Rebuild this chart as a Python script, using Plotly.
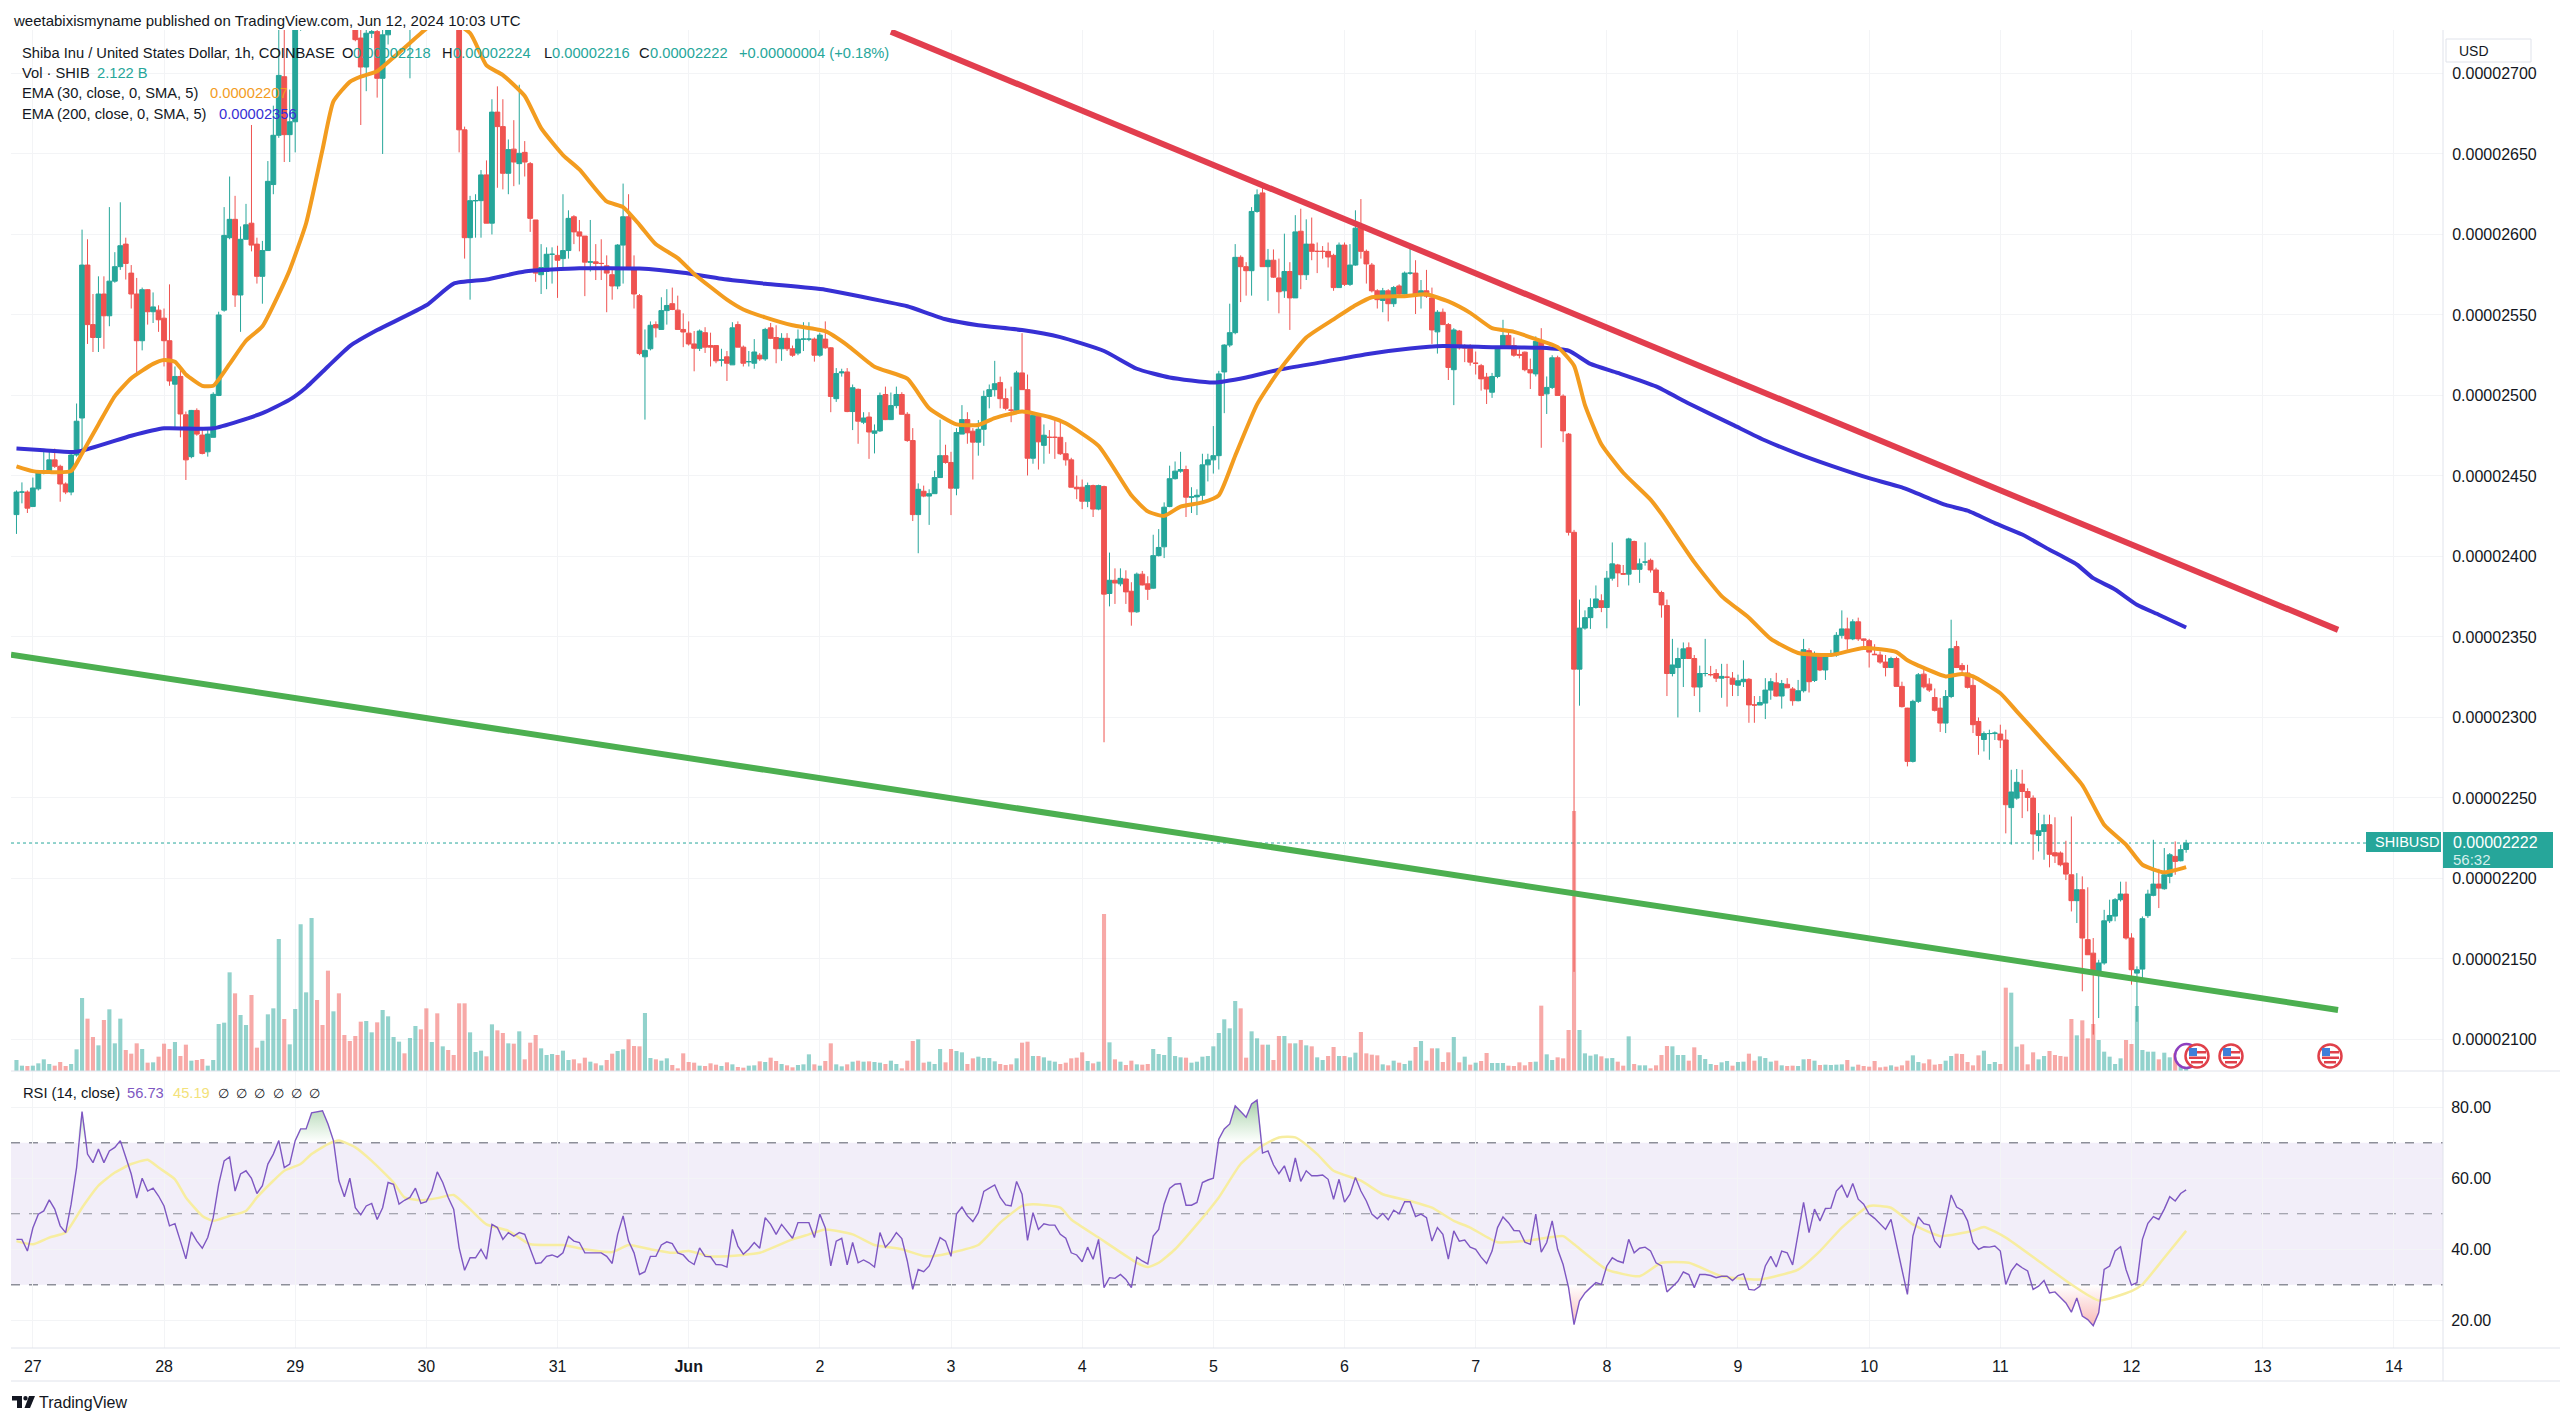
# coding: utf-8
import numpy as np
import pandas as pd
import plotly.graph_objects as go

# prices are in units of 0.00000001 USD, one candle per hour from May 26 21:00
opens = [
    2426,2440,2440,2431,2442,2452,2453,2460,2456,2445,2440,2463,2486,2581,2544,2536,2563,2549.5,2571,2580,
    2594,2576,2563,2534,2565.7,2552,2553,2548,2534,2507,2511.8,2488,2462,2490.7,2475.4,2465,2474,2500,2553,2598,
    2609.4,2562.4,2597,2607,2594,2574,2590,2631,2661.6,2698,2662,2670,2738,2752,2760,2775,2770,2765,2750,2768,
    2752,2745,2735,2722,2704,2725,2726,2697,2724,2730,2745,2760,2750,2765,2785,2770,2760,2768,2755,2765,
    2750,2740,2665,2598,2621,2621,2637,2607,2676,2667,2638,2653,2644,2651,2644,2609,2575,2577,2587.7,2587,
    2585,2590,2611,2601.6,2599,2582.8,2583,2582,2580.5,2575,2568,2593.4,2611,2578,2562,2524,2529,2544,2541,2552.7,
    2557,2553,2541,2538.7,2532,2529.3,2539,2531,2531,2522,2524,2519,2544,2530,2521,2520,2525,2522.7,2542,2536,
    2529,2535.5,2529,2526.3,2535,2535,2535,2525,2535,2529.6,2498,2514,2514.6,2490,2503.8,2483.4,2486.6,2476.5,2478,2500.6,
    2485,2493.7,2500.6,2488.3,2472,2426,2440.5,2437.5,2439,2449,2462.6,2458.4,2442.4,2476,2485,2477.8,2471,2479,2499.4,2503.6,
    2508,2498,2491,2490.8,2514,2503.6,2461,2487,2469,2474,2474,2474,2463.8,2460,2443,2443,2434.3,2444,2429.4,2443.4,
    2377,2385.2,2383,2386,2378.4,2365.6,2389,2383,2380.3,2400.5,2406,2431,2448.3,2453,2454,2436.8,2437,2438,2456.9,2460,
    2462.6,2514.6,2531.3,2539,2585.8,2580,2577.5,2614.3,2625.8,2580,2584,2573,2565,2577,2560.6,2602,2575,2594,2589.5,2589.5,
    2589.5,2587,2567,2593.4,2569,2581,2603.9,2589.5,2581,2565,2559,2565,2557,2568,2563,2576,2576,2562,2565,2560.6,
    2539.5,2551.7,2544,2516,2540,2529.6,2530.7,2520,2518.5,2511.4,2502,2511.8,2529.6,2537.3,2531,2525.5,2526.9,2516,2513.4,2533.6,
    2501,2505,2523.4,2499.6,2476,2415,2330,2355.5,2362,2368.3,2372.5,2368.3,2386.5,2394.7,2389.4,2389,2409.3,2392,2396.5,2397.6,
    2391.6,2377.6,2369.5,2327.3,2331,2336.6,2343.3,2336.6,2318.9,2327.3,2326.6,2327.3,2324.4,2325,2324.4,2320,2322.2,2323.7,2307.8,2307.7,
    2308.9,2317,2321.5,2313.3,2320.6,2317.7,2310.4,2316.6,2341.5,2323,2339,2329.5,2338.8,2338.8,2351,2355,2348.8,2359.4,2348.8,2347.7,
    2339.3,2338.8,2334.4,2331,2336.6,2319.3,2305.8,2272.7,2310,2326.9,2320.7,2312.4,2305.8,2296.5,2313,2344,2332.3,2327.6,2319.9,2297.5,
    2286.3,2290,2290,2289.7,2286,2244,2249.9,2258.6,2254,2249.9,2226.7,2229.2,2233.4,2216,2215.8,2209.6,2202.3,2186.2,2193,2162,
    2153.6,2140.6,2147.5,2173.7,2176.6,2186.8,2190.3,2163,2141.2,2143.7,2176.9,2189.5,2196.5,2193.6,2201.3,2213.7,2211,2218,
]
highs = [
    2441,2446,2441,2449,2452,2465,2465,2467,2457,2446,2464,2495,2603,2597,2563,2574,2574,2617,2589,2620,
    2598,2581,2573,2567,2566,2564,2556,2554,2569,2518,2518,2490,2491,2492,2478.7,2478.5,2502,2552,2617,2636,
    2624,2605,2619,2668,2598,2596,2645.6,2680,2735,2735,2690,2745,2760,2768,2785,2790,2782,2778,2772,2780,
    2765,2755,2748,2740,2735,2735,2740,2745,2750,2755,2770,2785,2775,2800,2795,2785,2775,2780,2770,2772,
    2762,2750,2667,2624,2625,2640,2646,2684,2692,2684,2659,2671,2693,2658,2645,2609,2594,2592,2592,2593,
    2625,2615,2612,2609,2599,2609,2594,2597,2587,2579.5,2594,2631.6,2625,2587,2563,2541,2546,2546,2561,2566,
    2567,2562,2551,2546,2540,2541,2542.4,2539,2531,2529,2527.6,2545.5,2546,2531,2527.6,2535,2526.3,2542,2545,2543.6,
    2538.7,2538.7,2531,2541,2545.5,2545.5,2536,2539,2546,2530,2517,2516.6,2517,2506.8,2504.3,2489.6,2489.6,2482,2501.8,2505.5,
    2501.8,2505.5,2502,2489.6,2479.7,2445.4,2444,2441.7,2453.2,2485,2469.4,2465,2479.7,2494,2489.6,2479.7,2484.7,2503,2506.8,2521.5,
    2511.7,2504.3,2505.5,2515.3,2538.7,2513,2489.6,2488.3,2482,2478.5,2484.7,2484.7,2471,2461.3,2450.3,2447.8,2445.9,2444.6,2444.6,2444,
    2402.4,2392.6,2392.6,2391.4,2384,2390,2391,2387.7,2413.5,2417,2433.6,2456.4,2459,2465,2456.4,2443,2441.7,2463.8,2463.8,2481,
    2515.3,2531.8,2557,2594,2587,2582.8,2617,2628,2629,2591,2590.7,2585,2600.5,2582.8,2612,2616,2609.4,2610.5,2595,2592.8,
    2595,2588,2595,2595,2594,2615,2622,2590.6,2582.3,2566,2566.8,2566,2568,2569,2577,2591.7,2584,2571.7,2578,2567,
    2553,2554,2545,2541.8,2540.7,2531.8,2531.8,2527.3,2519.6,2514,2514,2530.7,2547,2540.7,2536,2528.5,2527.3,2522.9,2536.7,2541.8,
    2511.8,2525,2524.7,2500.7,2476.7,2416.5,2373.2,2366.5,2374,2382,2376.5,2391,2408.7,2395.4,2394.7,2411.6,2409.8,2398.7,2408.7,2398.7,
    2393,2378.7,2373.2,2348.8,2343.3,2346.6,2346.6,2338.8,2332.2,2348.8,2332,2330,2333.3,2333.3,2328.2,2326.6,2335.5,2324.4,2313.3,2313.3,
    2324.4,2324.4,2327.7,2323.3,2324.4,2318.9,2323.3,2348.8,2343,2341,2340,2339.9,2342,2353,2366.5,2362,2361,2362,2349,2348.8,
    2345.5,2341,2338.8,2337.7,2337.7,2322.2,2306,2311,2327.6,2332,2324.4,2318,2312,2317,2360.7,2347.6,2333.8,2332.7,2326.5,2300,
    2291.3,2292.4,2291.3,2295.5,2292.4,2267.5,2268,2267.5,2256,2251.6,2240.6,2239.6,2239.6,2238,2216.8,2223.4,2238.5,2203.3,2201.3,2194.5,
    2163,2149.5,2180.5,2186.8,2187.8,2198,2198,2166,2145.4,2176.4,2193,2224,2206,2218.9,2215.8,2223,2220.9,2224,
]
lows = [
    2414,2433,2427,2431,2441,2451,2453,2455,2434,2438.7,2438,2462,2463,2532,2527,2527,2529,2543,2570,2578,
    2572,2554,2513,2528,2544,2545,2539.5,2518,2506,2480,2474,2447.5,2461,2475,2463.4,2462,2474,2499.6,2552,2597,
    2555,2539.5,2597,2589.5,2569.5,2557,2590,2625,2660,2645,2645,2651,2726.5,2740,2750,2760,2755,2745,2742,2745,
    2735,2730,2720,2668,2689,2722,2685,2650,2718,2728,2735,2745,2697,2750,2765,2750,2745,2748,2740,2745,
    2732,2651,2585,2559.5,2598,2598,2607,2600,2629,2628,2625,2630,2631,2636,2601.6,2570.6,2563,2566,2569.5,2560.6,
    2579,2585,2594,2589.5,2561.7,2577,2571.7,2571.7,2551.7,2559.5,2566,2569.5,2578,2554,2525,2485,2528,2536,2541,2544,
    2553,2541,2530,2531,2515,2527.6,2526.4,2518,2520,2518,2509,2519,2530,2518,2518,2516.6,2521.5,2521.5,2535,2520,
    2521.5,2527.6,2524,2525,2527.6,2533.7,2521,2524,2529,2489.6,2496,2511.7,2489.6,2478.5,2470,2482.2,2460.6,2464,2477.3,2484.7,
    2485.9,2492,2488.3,2471.2,2422,2402,2436.8,2419.6,2439,2449,2457.6,2425.7,2438,2476,2470,2447.8,2462.6,2468.7,2492,2499.4,
    2492,2490.8,2483.4,2489.6,2503.6,2450.3,2457.6,2454,2457.6,2463.8,2460.6,2463,2456.4,2443,2435.6,2429.4,2430.6,2424.5,2428.7,2284.6,
    2369,2370.5,2381.5,2370.5,2357,2365,2382,2373,2380,2400,2399,2430.6,2447.8,2452,2424.5,2427,2425.7,2434.3,2446.6,2451.5,
    2454,2489,2530,2538,2558,2562,2562,2613.5,2580,2558.8,2573,2551,2560.6,2540.7,2560.6,2566,2571.7,2584,2576,2585,
    2579.5,2565,2567,2568,2568,2580.6,2585,2569.5,2564,2554,2551.7,2546,2555,2562.4,2562.8,2575,2550.6,2554,2560.6,2532,
    2526,2544,2509.6,2494,2528.5,2520.7,2518.5,2513,2503,2494.7,2498.5,2510.7,2529.1,2530,2524,2523,2515,2504,2511.8,2467.5,
    2488.5,2504,2500,2471,2413,2142,2307.3,2354.5,2355,2367.6,2365.4,2355.4,2385,2381,2388.8,2382,2392,2383.6,2394.3,2390,
    2377.6,2362,2313.3,2325.5,2300,2318.9,2336.6,2313.3,2303.3,2325.5,2325.5,2322,2312.2,2306.7,2313.3,2313.3,2318.9,2296.7,2296.7,2307.7,
    2299,2311,2313,2305.5,2318.4,2307.3,2310,2315.5,2315.5,2322,2328.8,2323.3,2337.7,2337.7,2349,2342,2348,2347.5,2342,2331,
    2338.8,2333.3,2325.5,2331,2319.3,2306.2,2269.6,2272,2309,2318,2315.8,2303.7,2291,2290.3,2312,2331,2326.5,2318,2290.3,2276.8,
    2278.9,2273.7,2286,2281,2228,2221,2248.9,2237.5,2241.7,2211.6,2216.8,2211.6,2206.9,2209.6,2207.5,2199,2179.5,2172.3,2129.9,2152.6,
    2103,2113.3,2146.4,2172.3,2173.4,2185.7,2162,2134,2111,2138,2175.5,2188.9,2181.6,2193,2197,2202.3,2210.6,2216,
]
closes = [
    2440,2440,2430,2442.5,2452,2453,2460,2456,2445,2440,2463,2484,2581,2544,2536,2563,2549.5,2571,2580,2593,
    2582,2563,2534,2565.7,2552,2555,2547,2534,2509,2511.8,2488.5,2460,2490.7,2476,2464,2476,2500.7,2550,2599.4,2609.4,
    2562.4,2597,2606,2593.4,2574,2590,2633,2661.6,2698.8,2662,2670,2738,2752,2760,2775,2770,2765,2750,2768,2752,
    2745,2735,2721,2704,2725,2726,2697,2724,2730,2745,2760,2750,2765,2785,2770,2760,2768,2755,2765,2750,
    2740,2665,2598,2621,2621,2637,2607,2676,2667,2638,2652.7,2645,2650.4,2645,2610,2576,2579.5,2587.7,2587.7,2584,
    2590,2610,2601.6,2599,2582.8,2583,2582,2582,2576,2568,2593.4,2611,2579.5,2563,2526,2528,2543.6,2542,2552.7,2555.9,
    2553.4,2541,2539.4,2532,2529.3,2540,2530,2530,2521.5,2522,2520,2542,2530,2520,2521,2527,2522.7,2541,2535.5,2529,
    2535.5,2529,2525,2535,2535,2535,2525,2537.5,2529.6,2499.4,2513.6,2514.6,2490,2504.8,2484,2486,2477.3,2478,2500,2485,
    2493.7,2500.6,2488.3,2472,2426,2441.7,2437.5,2439,2449,2462.6,2458.4,2442.4,2477,2485,2476.8,2471,2479,2499.4,2503.6,2507.3,
    2498,2492,2490.8,2514,2503.6,2461,2487.6,2471.2,2475.3,2474,2474,2463.8,2460,2443,2442,2434.3,2444,2429.4,2444,2376.6,
    2385.2,2383.5,2386.4,2378,2365.6,2389,2382.3,2379.6,2400.5,2405.6,2430.6,2448.3,2453,2454,2436.8,2437,2438,2456.9,2460,2462.6,
    2513.4,2531.3,2539,2585.8,2580,2577.5,2614.3,2624.6,2580,2584,2573.5,2564.4,2577,2560.6,2601.6,2575,2594,2589.5,2589.5,2589.5,
    2586,2567,2593.4,2569,2581,2603.9,2589.5,2581.7,2565,2559.5,2565,2557,2567,2563,2576,2576,2563,2565,2561.7,2540.7,
    2551.7,2544,2517.4,2540.7,2529.6,2529.6,2520.7,2520,2510.3,2504,2511.8,2529.6,2537.3,2530.7,2525,2525,2516,2514,2533.6,2500,
    2505,2523.4,2500,2478,2415,2330,2355.5,2362,2368.3,2373.6,2368.3,2386.5,2395.4,2389.8,2389,2410.9,2392,2395.4,2396.5,2391.6,
    2377.6,2369.9,2327.3,2332.6,2336.6,2342.6,2336.6,2318.9,2327.3,2327.3,2326.6,2324.4,2325.5,2325,2320.6,2322.8,2323.7,2307.8,2307.7,2309.3,
    2317,2322.2,2313.3,2321,2318.4,2310.4,2316.6,2342.1,2322.2,2339,2329.5,2338.8,2338.8,2351,2355,2348.8,2359.4,2348.8,2348,2340.6,
    2339,2334.4,2331,2336.6,2319.3,2306.7,2272.7,2310,2326.5,2319,2317,2304.4,2296.5,2313,2342.7,2331,2329.6,2318.7,2295.5,2288.8,
    2290,2290,2290.3,2286,2245.8,2253.7,2259.7,2254,2250.3,2227.6,2229.6,2233.4,2215,2214,2208.5,2202.7,2186.2,2193,2163,2152.6,
    2141.3,2147.5,2173.7,2177,2186.8,2190.3,2163,2143.3,2143.3,2175,2190.3,2196.5,2194,2202.3,2214.7,2210.6,2217.9,2222,
]
# bar heights
volumes = [
    33,16,15,16,23,35,21,16,27,15,21,65,219,157,102,77,153,185,83,157,
    63,52,83,66,25,26,43,82,66,87,45,79,31,33,36,16,33,141,145,296,
    233,168,138,228,70,91,170,188,396,156,80,186,440,236,459,213,138,301,179,233,
    108,90,105,148,150,116,146,183,164,102,88,53,99,135,125,188,87,173,74,63,
    48,203,203,116,57,61,44,140,122,114,83,82,119,35,85,108,68,48,51,48,
    61,33,35,23,40,28,23,17,33,52,60,65,95,75,74,174,39,35,31,38,
    18,8,53,27,25,16,15,23,19,15,26,20,12,10,16,17,29,27,40,30,
    21,17,11,18,20,50,20,16,30,83,20,14,20,28,31,28,29,27,25,21,
    31,21,8,31,90,95,25,28,21,66,26,66,60,56,21,38,43,39,39,29,
    21,18,20,38,85,88,45,45,41,31,28,21,25,38,40,56,30,23,28,471,
    86,35,28,18,31,20,19,21,66,51,48,102,45,41,40,25,28,43,45,74,
    114,155,128,210,188,40,119,98,79,79,33,105,105,83,83,93,77,74,41,33,
    45,72,45,45,41,55,117,53,49,47,20,17,31,25,21,31,72,90,31,68,
    68,27,56,102,26,43,19,25,30,54,24,24,24,16,15,26,17,27,28,196,
    50,33,41,38,123,780,123,53,46,50,44,38,39,28,16,104,21,17,17,8,
    17,48,75,74,48,48,31,71,48,36,21,18,26,30,16,27,28,52,31,44,
    39,28,31,17,15,16,15,35,36,31,18,19,18,19,20,33,13,19,15,13,
    30,11,13,17,13,17,31,47,27,23,35,19,21,31,45,52,51,27,17,47,
    61,21,27,21,250,235,73,80,20,56,35,45,60,48,45,43,156,107,152,98,
    141,93,58,43,21,38,93,81,195,63,58,58,35,55,41,53,48,38,
]
rsi_values = [
    42.8,42.8,39.5,46,49.9,50.8,53.9,51.3,46.6,44.7,52.7,63,78.8,66.8,64.4,68.2,64.4,67.7,68.7,70.6,
    65.9,61.2,54.4,60,56.4,57.2,55,52.2,46.6,47.2,42.3,37.3,44.9,42.3,40.3,43.3,48.9,58.3,64.9,66,
    56.4,61.2,62.1,60,55.7,57.9,64,66.8,70.6,63,64,70.6,73.9,73.9,78.4,78.7,79,75.3,70.6,59.3,
    54.8,60,51.7,49.7,52.2,52.9,48.4,51.7,58.8,58.3,52.7,53.8,54.6,57.2,52.9,53.4,56.4,61.8,58.8,54.6,
    51.3,40.4,34.1,37.6,37.6,40,37.2,47,46.1,42.8,44.7,43.7,44.7,44.2,40,36,36.2,38,38.4,37.8,
    39,43.6,42.3,41.9,39,39,38.8,39,38,36,44.2,49.4,42.3,39,32.9,33.7,38,38,41.2,42.1,
    41.6,39,38.4,36.7,35.7,40.4,38,37.9,35.7,35.6,35,45.6,40.9,38.6,40,41.9,40.3,48.9,47,44.2,
    47,45.2,43.1,47.5,47.5,47.5,43.3,49.9,46,35.3,42.3,43.1,35.6,41.9,36.2,37,36.2,35,44.7,40.6,
    42.3,44.7,
    43,36.7,28.7,34.3,33.7,35.3,39,43.3,42.3,38,49.9,51.9,49.4,47.8,50.3,56.3,57.2,58.1,54.6,52.5,
    52.2,59.1,55.5,42.5,50.3,45.6,47.2,46.8,46.8,44.2,43.1,39,38.4,36.5,40.6,37.2,42.8,29.2,32,31.8,
    32.9,31.5,29.2,37.8,36.7,35.9,43.7,45.6,52.7,57.1,58.3,58.5,52.4,52.4,53.2,58.8,59.5,60,71,73.9,
    75.3,80.4,78.8,77.2,80.9,82,67.1,67.7,63.8,61.3,63.5,59,65.7,59.1,62.1,60.7,60.7,60.9,59.7,54.1,
    59.7,53.3,55.5,60.2,56.4,53.6,49.9,48.6,50.1,48.3,51,50,53.4,53.4,49.2,49.9,48.9,42.3,46.1,44.2,
    37.2,45.2,42.3,42.6,40.6,40,37.8,36,39.5,46.1,49.1,47.5,45.3,45.2,42,41.4,49.9,39.2,41.9,48,
    40,35.7,29.2,18.8,25.4,27.7,29.2,30.6,30.1,35.3,37.6,36.7,36.2,42.8,39,40.3,40.6,39.5,36.2,35.3,
    28,29.6,31,33.6,32.9,29.2,32.9,32.9,32.6,32,32.4,32.4,31.2,32.6,33.1,28.7,28.5,29.6,35.3,38,
    35,39.5,39,35.6,44.2,
    53.2,44.7,51.3,48,51.5,51.6,56.4,58,54.6,58.5,54.1,52.7,49.9,48.7,47,45.6,48.4,40.9,34.3,27.3,
    43.7,49.1,47.2,46.8,42.3,40.4,48,55.3,51.9,51,48,41.9,40,40.7,40.6,40.9,39.5,30.1,33.9,35.9,
    34.8,33.9,28.7,29.6,31.2,27.7,28,26.3,24.9,22.3,26.3,21.2,20.2,18.5,22.1,34.3,35.3,39.5,40.7,34.3,
    29.9,30.6,42.8,47.3,49.2,48.4,51.3,54.8,53.6,55.7,56.73,
]
# smooth lines, read at their bends: candle number and value
rsi_ma_hours = [0,3,6,9,12,15,18,21,24,26,29,31,34,36,39,42,44,47,49,52,54,57,59,62,65,69,71,74,77,80,83,86,90,94,100,104,109,112,116,120,123,127,133,136,142,145,148,153,157,162,
    166,168,171,176,180,184,186,191,193,198,205,207,209,212,216,220,224,228,231,234,238,241,246,250,255,259,263,266,271,277,283,285,291,297,301,306,312,319,326,330,334,339,343,347,352,358,360,364,370,376,381,387,389,393,397]
rsi_ma_values = [42.3,41.4,43.3,44.7,51.7,57.9,61.6,64,65.2,63,59.7,54.6,49.4,48,49.4,50.8,54.6,59.3,62.1,64,66.8,69.6,70.6,68.7,64.9,58.8,54.6,53.8,54.4,55.3,51.3,47,45.2,41.4,41.2,40,39.2,41.2,40,39,39.5,38,38.4,39,42.8,44.2,45.6,44.2,41.2,40,
    38.1,38.1,39,41.2,47.5,52.2,52.7,51.7,48.4,43.3,36.2,35,36.2,40,47,54.6,64,69.2,71.5,71.5,66.8,62.1,59.3,55.5,53.6,51.7,48,46.1,42,42.5,43.7,41.4,34.3,32.4,36.2,36.2,32.4,31.5,34.3,39.5,46.1,52.2,51.7,47,43.7,45.2,46.3,43.3,36.7,30.1,25.6,28.2,30.1,37.6,45.19]
ema30_hours = [0,3,6,10,12,15,18,21,25,27,29,31,34,36,39,42,45,48,50,53,56,58,61,63,66,69,72,74,78,83,86,89,93,96,100,103,108,111,114,117,121,124,130,133,137,142,148,152,157,163,167,172,176,179,184,189,192,198,204,207,210,213,217,220,223,227,231,236,241,245,248,254,258,262,266,270,274,278,282,285,287,290,294,299,301,307,312,317,321,326,332,338,344,346,348,353,356,358,363,366,371,378,382,386,389,393,397]
ema30_values = [2456,2453,2452.4,2453,2464,2482,2499.6,2510.7,2519.6,2522,2521,2513,2506,2506,2519.6,2534,2543,2563,2578,2607,2652.7,2682.6,2694.8,2698,2701.4,2710,2719,2725,2735,2725,2705,2699,2686,2666,2649.3,2640.4,2620.5,2617,2606,2593.9,2585.3,2575.5,2559.5,2553.4,2548.5,2543.6,2539.9,2531.3,2517.8,2510.4,2492,2482,2481.7,2485.9,2490,2486.6,2482.7,2468.7,2438,2428,2425.2,2431,2433.6,2438,2462.6,2494.5,2515.3,2536,2547.3,2556,2561,2561.7,2562.8,2558.4,2551.3,2541.8,2539.5,2535,2530,2518.5,2494,2469.7,2452,2435.3,2426.4,2396.5,2375.4,2362,2348.8,2340,2338.8,2343.2,2340.6,2335.5,2332.2,2325.5,2327,2325.5,2315,2303.8,2285,2258,2233.4,2221,2208.5,2203.8,2207]
ema200_hours = [0,5,11,21,27,36,45,50,53,57,61,66,75,80,86,93,103,114,122,129,137,148,159,163,170,176,184,191,199,205,211,219,225,231,239,247,255,261,270,279,284,288,293,300,306,314,320,326,332,339,345,353,357,362,367,372,377,380,384,388,392,397]
ema200_values = [2467,2466,2465,2475,2479.6,2479.6,2489,2497.4,2505,2518,2530.7,2540.6,2556,2569.5,2572,2577,2579,2578.8,2576.2,2572.5,2569.4,2565.7,2558.3,2555.4,2547.3,2543.6,2540.6,2536.2,2527.6,2516.6,2511.2,2508,2511.2,2516,2520.7,2525.6,2529.1,2530.7,2530,2529.6,2527.8,2519.6,2514,2505.6,2495,2481.9,2472,2463.7,2456.4,2448.6,2442.9,2432,2428.4,2420.7,2413.6,2404.2,2395,2386.5,2379.5,2370,2363.8,2355.9]
red_line_hours = [160,424.8]
red_line_values = [2726,2354.4]
green_line_hours = [-1,424.8]
green_line_values = [2339,2118.3]

price_ticks = [2100,2150,2200,2250,2300,2350,2400,2450,2500,2550,2600,2650,2700]
price_labels = ['0.00002100','0.00002150','0.00002200','0.00002250','0.00002300','0.00002350','0.00002400','0.00002450','0.00002500','0.00002550','0.00002600','0.00002650','0.00002700']
rsi_ticks = [20,40,60,80]
rsi_labels = ['20.00','40.00','60.00','80.00']
day_ticks = ['2024-05-27','2024-05-28','2024-05-29','2024-05-30','2024-05-31','2024-06-01','2024-06-02','2024-06-03','2024-06-04','2024-06-05','2024-06-06','2024-06-07','2024-06-08','2024-06-09','2024-06-10','2024-06-11','2024-06-12','2024-06-13','2024-06-14']
day_labels = ['27','28','29','30','31','<b>Jun</b>','2','3','4','5','6','7','8','9','10','11','12','13','14']

W, H = 2560, 1423
UP = '#26a69a'
DOWN = '#ef5350'
TEXT = '#131722'
GRID = '#f3f4f6'
BORDER = '#e0e3eb'
FONT = 'Liberation Sans'

start = pd.Timestamp('2024-05-26 21:00')
times = pd.date_range(start, periods=398, freq='h')

def at_hours(hours):
    return [start + pd.Timedelta(hours=h) for h in hours]

def px(x):
    return x / W

def py(y):
    return 1 - y / H

fig = go.Figure()

vol_colors = [UP if c >= o else DOWN for o, c in zip(opens, closes)]
fig.add_trace(go.Bar(x=times, y=volumes, marker=dict(color=vol_colors, opacity=0.5, line_width=0),
    width=3600000 * 0.75, yaxis='y', xaxis='x'))

fig.add_trace(go.Candlestick(x=times, open=opens, high=highs, low=lows, close=closes, yaxis='y2', xaxis='x',
    whiskerwidth=0,
    increasing=dict(line=dict(color=UP, width=1), fillcolor=UP),
    decreasing=dict(line=dict(color=DOWN, width=1), fillcolor=DOWN)))

fig.add_trace(go.Scatter(x=at_hours(ema200_hours), y=ema200_values, mode='lines', yaxis='y2', line=dict(color='#3730d4', width=4, shape='spline', smoothing=0.5)))
fig.add_trace(go.Scatter(x=at_hours(ema30_hours), y=ema30_values, mode='lines', yaxis='y2', line=dict(color='#f39c1f', width=4, shape='spline', smoothing=0.5)))
fig.add_trace(go.Scatter(x=at_hours(red_line_hours), y=red_line_values, mode='lines', yaxis='y2', line=dict(color='#e23e4e', width=6)))
fig.add_trace(go.Scatter(x=at_hours(green_line_hours), y=green_line_values, mode='lines', yaxis='y2', line=dict(color='#4caf50', width=6)))

# rsi pane, with the parts above 70 and below 30 shaded
rsi = np.array(rsi_values)
fig.add_trace(go.Scatter(x=times, y=[70] * len(rsi), mode='lines', line=dict(width=0), yaxis='y3'))
fig.add_trace(go.Scatter(x=times, y=np.maximum(rsi, 70), mode='lines', line=dict(width=0), yaxis='y3', fill='tonexty',
    fillgradient=dict(type='vertical', colorscale=[[0, 'rgba(76,175,80,0)'], [1, 'rgba(56,142,60,0.45)']])))
fig.add_trace(go.Scatter(x=times, y=[30] * len(rsi), mode='lines', line=dict(width=0), yaxis='y3'))
fig.add_trace(go.Scatter(x=times, y=np.minimum(rsi, 30), mode='lines', line=dict(width=0), yaxis='y3', fill='tonexty',
    fillgradient=dict(type='vertical', colorscale=[[0, 'rgba(239,83,80,0.4)'], [1, 'rgba(239,83,80,0)']])))
fig.add_trace(go.Scatter(x=at_hours(rsi_ma_hours), y=rsi_ma_values, mode='lines', yaxis='y3', line=dict(color='#f7eda0', width=2.5, shape='spline', smoothing=0.5)))
fig.add_trace(go.Scatter(x=times, y=rsi_values, mode='lines', yaxis='y3', line=dict(color='#7e57c2', width=1.4)))

shapes = []

def rect(x0, y0, x1, y1, fill, line=None, lw=0):
    shapes.append(dict(type='rect', xref='paper', yref='paper', x0=px(x0), x1=px(x1), y0=py(y0), y1=py(y1),
        fillcolor=fill, line=dict(color=line or fill, width=lw), layer='above'))

def hline(x0, x1, y, color=BORDER, width=1):
    shapes.append(dict(type='line', xref='paper', yref='paper', x0=px(x0), x1=px(x1), y0=py(y), y1=py(y),
        line=dict(color=color, width=width), layer='above'))

def vline(x, y0, y1, color=BORDER, width=1):
    shapes.append(dict(type='line', xref='paper', yref='paper', x0=px(x), x1=px(x), y0=py(y0), y1=py(y1),
        line=dict(color=color, width=width), layer='above'))

def circle(cx, cy, r, fill, line, lw):
    shapes.append(dict(type='circle', xref='paper', yref='paper', x0=px(cx - r), x1=px(cx + r), y0=py(cy + r), y1=py(cy - r),
        fillcolor=fill, line=dict(color=line, width=lw), layer='above'))

def poly(points, fill):
    path = 'M' + ' L'.join('%f,%f' % (px(a), py(b)) for a, b in points) + ' Z'
    shapes.append(dict(type='path', xref='paper', yref='paper', path=path, fillcolor=fill, line=dict(width=0), layer='above'))

def flag(cx, cy):
    circle(cx, cy, 11.5, 'white', '#e0404a', 2.5)
    rect(cx - 8, cy - 8, cx, cy, '#3f7fd9')
    rect(cx, cy - 5, cx + 9, cy - 2.5, '#e0404a')
    rect(cx - 8, cy + 0.5, cx + 9, cy + 3, '#e0404a')
    rect(cx - 6, cy + 5, cx + 6, cy + 7.5, '#e0404a')

# rsi band and its dashed levels
shapes.append(dict(type='rect', xref='x domain', yref='y3', x0=0, x1=1, y0=30, y1=70, fillcolor='rgba(126,87,194,0.1)', line_width=0, layer='below'))
for level, w in [(70, 1.6), (50, 1.2), (30, 1.6)]:
    shapes.append(dict(type='line', xref='x domain', yref='y3', x0=0, x1=1, y0=level, y1=level, line=dict(color='#8d8f99', width=w, dash='dash'), layer='below'))

# last price line
shapes.append(dict(type='line', xref='paper', yref='y2', x0=px(11), x1=px(2366), y0=2222, y1=2222, line=dict(color=UP, width=1, dash='dot'), layer='below'))

hline(11, 2560, 1071)
hline(11, 2560, 1348)
hline(11, 2560, 1381)
vline(2443, 30, 1381)

purple = dict(type='circle', xref='paper', yref='paper', x0=px(2175), x1=px(2198), y0=py(1068), y1=py(1044), fillcolor='white', line=dict(color='#8e3fbf', width=2.5), layer='above')
shapes.append(purple)
flag(2197, 1056)
flag(2231, 1056)
flag(2330, 1056)

rect(2366, 832, 2441, 852, UP)
rect(2443, 832, 2553, 868, UP)
rect(2446, 39, 2531, 62, 'white', BORDER, 1)

# tradingview mark
rect(12, 1396, 22, 1400.5, TEXT)
rect(17, 1396, 22, 1408, TEXT)
circle(25.5, 1398.2, 2.2, TEXT, TEXT, 0)
poly([(29, 1396), (35, 1396), (30, 1408), (24.5, 1408)], TEXT)

def label(x, y, text, size=14.7, color=TEXT, anchor='left'):
    fig.add_annotation(xref='paper', yref='paper', x=px(x), y=py(y), text=text, showarrow=False, xanchor=anchor, yanchor='middle',
        align='left', borderpad=0, font=dict(family=FONT, size=size, color=color))

label(12, 21, 'weetabixismyname published on TradingView.com, Jun 12, 2024 10:03 UTC', size=15)
label(21, 53, 'Shiba Inu / United States Dollar, 1h, COINBASE')
label(341, 53, 'O')
label(352, 53, '0.00002218', color=UP)
label(441, 53, 'H')
label(452, 53, '0.00002224', color=UP)
label(543, 53, 'L')
label(551, 53, '0.00002216', color=UP)
label(638, 53, 'C')
label(649, 53, '0.00002222', color=UP)
label(738, 53, '+0.00000004 (+0.18%)', color=UP)
label(21, 73, 'Vol · SHIB')
label(96, 73, '2.122 B', color=UP)
label(21, 93.5, 'EMA (30, close, 0, SMA, 5)')
label(209, 93.5, '0.00002207', color='#f39c1f')
label(21, 113.5, 'EMA (200, close, 0, SMA, 5)')
label(218, 113.5, '0.00002356', color='#3730d4')
label(22, 1093, 'RSI (14, close)')
label(126, 1093, '56.73', color='#7e57c2')
label(172, 1093, '45.19', color='#f3e27a')
label(217, 1093, '∅  ∅  ∅  ∅  ∅  ∅', size=13)
label(38, 1402, 'TradingView', size=16)
label(2458, 51, 'USD', size=14)
label(2374, 842, 'SHIBUSD', size=14.5, color='white')
label(2452, 842, '0.00002222', size=16, color='white')
label(2452, 859, '56:32', size=15, color='#d5efec')

fig.update_layout(
    width=W, height=H, autosize=False,
    margin=dict(l=0, r=0, t=0, b=0),
    paper_bgcolor='white', plot_bgcolor='white',
    showlegend=False, hovermode=False, barmode='overlay',
    boxgap=0.12, boxgroupgap=0,
    font=dict(family=FONT, size=16, color=TEXT),
    shapes=shapes,
    xaxis=dict(domain=[px(11), px(2443)], type='date', anchor='y3',
        range=[start - pd.Timedelta(hours=1), start + pd.Timedelta(hours=444)],
        tickvals=day_ticks, ticktext=day_labels, tickangle=0, tickfont=dict(size=16),
        showgrid=True, gridcolor=GRID, gridwidth=1, zeroline=False, showline=False,
        ticks='outside', ticklen=4, tickcolor='rgba(0,0,0,0)', rangeslider=dict(visible=False)),
    yaxis=dict(domain=[py(1071), py(30)], range=[0, 3123], visible=False, fixedrange=True),
    yaxis2=dict(domain=[py(1071), py(30)], overlaying='y', side='right', anchor='x', range=[2080.4, 2727],
        tickvals=price_ticks, ticktext=price_labels, tickfont=dict(size=16),
        showgrid=True, gridcolor=GRID, gridwidth=1, zeroline=False, showline=False,
        ticks='outside', ticklen=5, tickcolor='rgba(0,0,0,0)'),
    yaxis3=dict(domain=[py(1348), py(1071)], side='right', anchor='x', range=[12.2, 90.2],
        tickvals=rsi_ticks, ticktext=rsi_labels, tickfont=dict(size=16),
        showgrid=True, gridcolor=GRID, gridwidth=1, zeroline=False, showline=False,
        ticks='outside', ticklen=4, tickcolor='rgba(0,0,0,0)'),
)

fig.write_html("out.html", config=dict(displayModeBar=False),
    post_script="document.body.style.margin='0';document.body.style.overflow='hidden';")
